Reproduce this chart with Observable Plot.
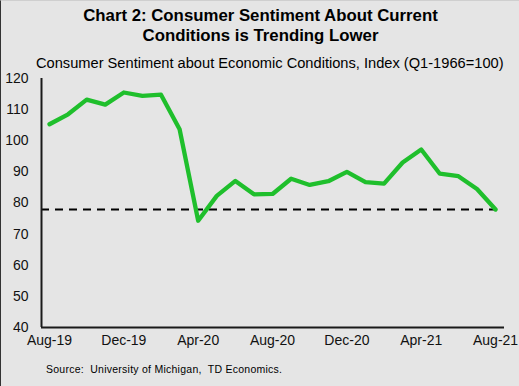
<!DOCTYPE html>
<html>
<head>
<meta charset="utf-8">
<script src="https://cdn.jsdelivr.net/npm/d3@7"></script>
<script src="https://cdn.jsdelivr.net/npm/@observablehq/plot@0.6"></script>
<style>
  html, body { margin: 0; padding: 0; background: #e5e5e5; }
  #chart {
    position: relative; width: 519px; height: 386px; box-sizing: border-box;
    background: #e5e5e5; border-left: 1px solid #333; border-top: 1px solid #cfcfcf;
    font-family: "Liberation Sans", Arial, sans-serif; color: #000; overflow: hidden;
  }
  #title { position: absolute; top: 5px; left: 0; width: 519px; text-align: center;
    font-weight: bold; font-size: 16.8px; line-height: 20px; }
  #subtitle { position: absolute; top: 53px; left: 35px; font-size: 14.65px; line-height: 18px; white-space: nowrap; }
  #plot { position: absolute; top: 69px; left: -1px; }
  #source { position: absolute; top: 362px; left: 45px; font-size: 10.5px; letter-spacing: 0.25px; white-space: pre; }
</style>
</head>
<body>
<div id="chart">
  <div id="title">Chart 2: Consumer Sentiment About Current<br>Conditions is Trending Lower</div>
  <div id="subtitle">Consumer Sentiment about Economic Conditions, Index (Q1-1966=100)</div>
  <div id="plot"></div>
  <div id="source">Source:  University of Michigan,  TD Economics.</div>
</div>
<script>
const months = ["Aug-19","Sep-19","Oct-19","Nov-19","Dec-19","Jan-20","Feb-20","Mar-20","Apr-20","May-20","Jun-20","Jul-20",
  "Aug-20","Sep-20","Oct-20","Nov-20","Dec-20","Jan-21","Feb-21","Mar-21","Apr-21","May-21","Jun-21","Jul-21","Aug-21"];
const sentiment = [105.3,108.5,113.2,111.6,115.5,114.4,114.8,103.7,74.3,82.3,87.1,82.8,
  82.9,87.8,85.8,87.0,90.0,86.7,86.2,93.0,97.2,89.4,88.6,84.5,77.9];
const referenceLevel = 77.9;
const tickLabels = ["Aug-19","Dec-19","Apr-20","Aug-20","Dec-20","Apr-21","Aug-21"];
const yTicks = [40,50,60,70,80,90,100,110,120];

const data = months.map((m, i) => ({i, month: m, value: sentiment[i]}));
const tickIdx = tickLabels.map(l => months.indexOf(l));
const xMin = -0.43, xMax = 24.48;

const chart = Plot.plot({
  width: 519,
  height: 287,
  marginTop: 8,
  marginBottom: 30,
  marginLeft: 41,
  marginRight: 15,
  style: {background: "transparent", fontFamily: "'Liberation Sans', Arial, sans-serif", fontSize: "14px", color: "#111"},
  x: {domain: [xMin, xMax], ticks: tickIdx, tickFormat: i => months[i], tickSize: 0, tickPadding: 8, label: null},
  y: {domain: [40, 120], ticks: yTicks, tickSize: 0, tickPadding: 13, label: null},
  marks: [
    Plot.ruleY([referenceLevel], {x1: xMin, x2: months.length - 1, stroke: "#000", strokeWidth: 2, strokeDasharray: "8,6"}),
    Plot.line(data, {x: "i", y: "value", stroke: "#1fbf2c", strokeWidth: 4.3, strokeLinejoin: "round"}),
    Plot.ruleX([xMin], {y1: 40, y2: 120, stroke: "#1a1a1a", strokeWidth: 2}),
    Plot.ruleY([40], {x1: xMin, x2: xMax, stroke: "#1a1a1a", strokeWidth: 2})
  ]
});
document.getElementById("plot").appendChild(chart);
</script>
</body>
</html>
